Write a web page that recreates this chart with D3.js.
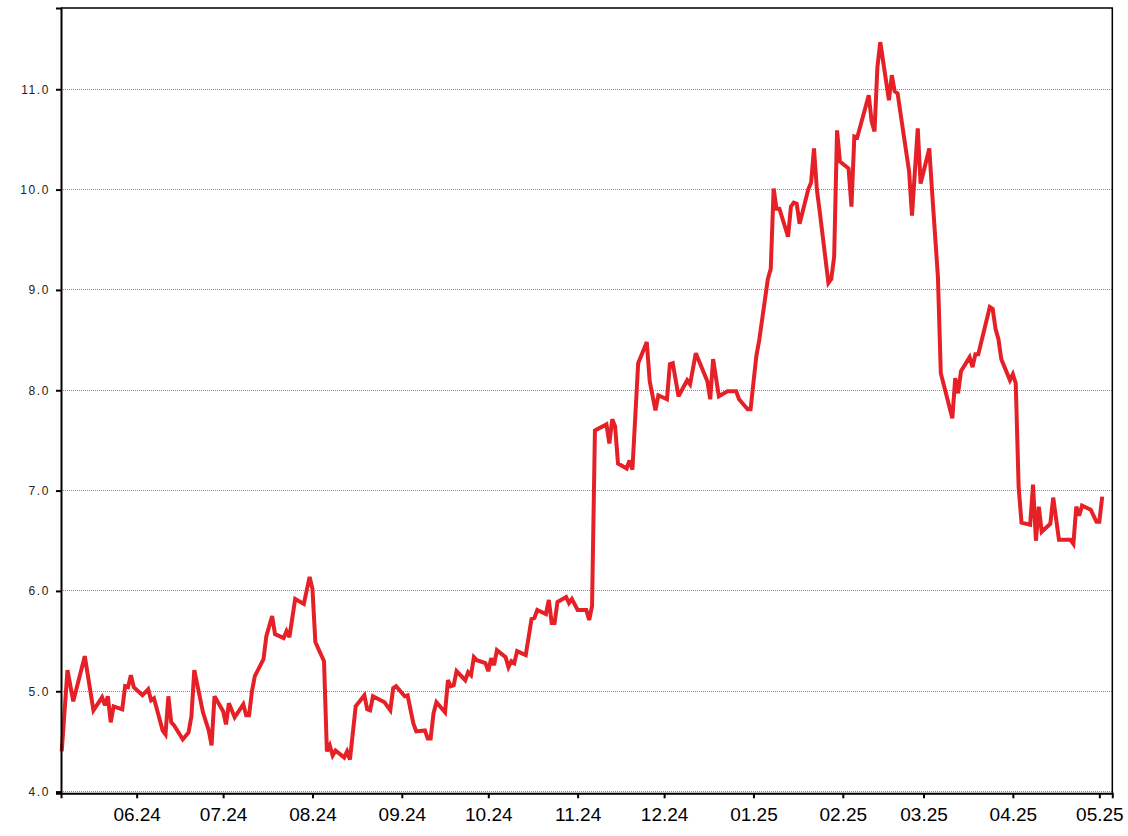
<!DOCTYPE html>
<html>
<head>
<meta charset="utf-8">
<script src="https://cdn.jsdelivr.net/npm/d3@7"></script>
<style>
  html, body { margin: 0; padding: 0; background: #fff; }
  svg { display: block; }
</style>
</head>
<body>
<svg id="chart" width="1128" height="836"></svg>
<script>
const dates = [
  "2024-05-06","2024-05-08","2024-05-10","2024-05-14","2024-05-17","2024-05-20","2024-05-21","2024-05-22","2024-05-23","2024-05-24",
  "2024-05-27","2024-05-28","2024-05-29","2024-05-30","2024-05-31","2024-06-03","2024-06-05","2024-06-06","2024-06-07","2024-06-10",
  "2024-06-11","2024-06-12","2024-06-13","2024-06-14","2024-06-17","2024-06-19","2024-06-20","2024-06-21","2024-06-24","2024-06-26",
  "2024-06-27","2024-06-28","2024-07-01","2024-07-02","2024-07-03","2024-07-05","2024-07-08","2024-07-09","2024-07-10","2024-07-11",
  "2024-07-12","2024-07-15","2024-07-16","2024-07-18","2024-07-19","2024-07-22","2024-07-23","2024-07-24","2024-07-26","2024-07-29",
  "2024-07-31","2024-08-01","2024-08-02","2024-08-05","2024-08-06","2024-08-07","2024-08-08","2024-08-09","2024-08-12","2024-08-13",
  "2024-08-14","2024-08-16","2024-08-19","2024-08-20","2024-08-21","2024-08-22","2024-08-26","2024-08-28","2024-08-29","2024-08-30",
  "2024-09-02","2024-09-03","2024-09-05","2024-09-06","2024-09-09","2024-09-10","2024-09-11","2024-09-12","2024-09-13","2024-09-16",
  "2024-09-17","2024-09-18","2024-09-19","2024-09-20","2024-09-23","2024-09-24","2024-09-25","2024-09-26","2024-09-27","2024-09-30",
  "2024-10-01","2024-10-02","2024-10-03","2024-10-04","2024-10-07","2024-10-08","2024-10-09","2024-10-10","2024-10-11","2024-10-14",
  "2024-10-16","2024-10-17","2024-10-18","2024-10-21","2024-10-22","2024-10-23","2024-10-24","2024-10-25","2024-10-28","2024-10-29",
  "2024-10-30","2024-11-01","2024-11-04","2024-11-05","2024-11-06","2024-11-07","2024-11-11","2024-11-12","2024-11-13","2024-11-14",
  "2024-11-15","2024-11-18","2024-11-19","2024-11-20","2024-11-22","2024-11-25","2024-11-26","2024-11-28","2024-11-29","2024-12-02",
  "2024-12-03","2024-12-04","2024-12-06","2024-12-09","2024-12-10","2024-12-12","2024-12-16","2024-12-17","2024-12-18","2024-12-20",
  "2024-12-23","2024-12-26","2024-12-27","2024-12-30","2024-12-31","2025-01-02","2025-01-03","2025-01-06","2025-01-07","2025-01-08",
  "2025-01-09","2025-01-10","2025-01-13","2025-01-14","2025-01-15","2025-01-16","2025-01-17","2025-01-20","2025-01-21","2025-01-22",
  "2025-01-23","2025-01-24","2025-01-27","2025-01-28","2025-01-29","2025-01-30","2025-01-31","2025-02-03","2025-02-04","2025-02-05",
  "2025-02-06","2025-02-10","2025-02-11","2025-02-12","2025-02-13","2025-02-14","2025-02-17","2025-02-18","2025-02-19","2025-02-20",
  "2025-02-24","2025-02-25","2025-02-27","2025-02-28","2025-03-03","2025-03-04","2025-03-06","2025-03-07","2025-03-11","2025-03-12",
  "2025-03-13","2025-03-14","2025-03-17","2025-03-18","2025-03-19","2025-03-20","2025-03-24","2025-03-25","2025-03-26","2025-03-27",
  "2025-03-28","2025-03-31","2025-04-01","2025-04-02","2025-04-03","2025-04-04","2025-04-07","2025-04-08","2025-04-09","2025-04-10",
  "2025-04-11","2025-04-14","2025-04-15","2025-04-17","2025-04-21","2025-04-22","2025-04-23","2025-04-24","2025-04-25","2025-04-28",
  "2025-04-30","2025-05-01","2025-05-02"
];
const values = [
  4.40,5.21,4.90,5.35,4.81,4.94,4.86,4.95,4.69,4.85,
  4.82,5.05,5.04,5.16,5.04,4.96,5.02,4.91,4.93,4.61,
  4.57,4.95,4.69,4.66,4.52,4.59,4.75,5.21,4.79,4.61,
  4.46,4.95,4.80,4.67,4.88,4.74,4.87,4.76,4.76,5.00,
  5.15,5.32,5.55,5.75,5.57,5.53,5.60,5.54,5.92,5.87,
  6.14,6.02,5.49,5.30,4.40,4.46,4.36,4.41,4.34,4.40,
  4.32,4.85,4.96,4.82,4.81,4.95,4.89,4.81,5.03,5.05,
  4.95,4.96,4.68,4.60,4.61,4.53,4.53,4.78,4.89,4.79,
  5.11,5.05,5.06,5.20,5.11,5.19,5.16,5.34,5.31,5.28,
  5.20,5.33,5.26,5.41,5.34,5.24,5.30,5.28,5.40,5.36,
  5.72,5.73,5.81,5.77,5.91,5.68,5.68,5.89,5.94,5.88,
  5.92,5.81,5.81,5.71,5.85,7.60,7.66,7.47,7.71,7.64,
  7.27,7.22,7.30,7.21,8.27,8.48,8.09,7.80,7.95,7.91,
  8.26,8.27,7.94,8.10,8.06,8.37,8.09,7.91,8.31,7.94,
  7.99,7.99,7.91,7.81,7.81,8.34,8.50,9.11,9.21,10.01,
  9.81,9.81,9.53,9.83,9.87,9.86,9.66,10.00,10.07,10.41,
  10.00,9.78,9.07,9.11,9.33,10.59,10.28,10.21,9.83,10.53,
  10.52,10.94,10.68,10.58,11.22,11.47,10.89,11.14,10.98,10.96,
  10.18,9.74,10.61,10.06,10.41,9.97,9.13,8.17,7.72,8.12,
  7.97,8.19,8.33,8.23,8.36,8.36,8.83,8.81,8.61,8.51,
  8.31,8.10,8.16,8.07,7.04,6.68,6.66,7.06,6.50,6.84,
  6.59,6.67,6.93,6.51,6.51,6.47,6.84,6.75,6.85,6.81,
  6.69,6.69,6.94
];
const yTicks = [4.0, 5.0, 6.0, 7.0, 8.0, 9.0, 10.0, 11.0];
const xTickDates = ["2024-06-01","2024-07-01","2024-08-01","2024-09-01","2024-10-01","2024-11-01",
                    "2024-12-01","2025-01-01","2025-02-01","2025-03-01","2025-04-01","2025-05-01"];
const xTickLabels = ["06.24","07.24","08.24","09.24","10.24","11.24","12.24","01.25","02.25","03.25","04.25","05.25"];
const xDomain = ["2024-05-05T18:00:00Z", "2025-05-05T12:00:00Z"];
const yDomain = [3.983, 11.81];

const parse = d3.utcParse("%Y-%m-%d");
const data = dates.map((d, i) => ({ date: parse(d), value: values[i] }));

const L = 61, R = 1112.3, T = 8, B = 793.3;
const svg = d3.select("#chart");

const x = d3.scaleUtc().domain(xDomain.map(s => new Date(s))).range([L, R]);
const y = d3.scaleLinear().domain(yDomain).range([B, T]);

// gridlines
svg.append("g").selectAll("line").data(yTicks).join("line")
  .attr("x1", L).attr("x2", R)
  .attr("y1", d => y(d)).attr("y2", d => y(d))
  .attr("stroke", "#8c8c8c").attr("stroke-width", 1)
  .attr("stroke-dasharray", "1,1")
  .attr("shape-rendering", "crispEdges");

// line
svg.append("path").datum(data)
  .attr("fill", "none")
  .attr("stroke", "#e52027")
  .attr("stroke-width", 4)
  .attr("stroke-linejoin", "miter")
  .attr("stroke-miterlimit", 3)
  .attr("d", d3.line().x(d => x(d.date)).y(d => y(d.value)));

// frame (top, right)
svg.append("path")
  .attr("d", `M${L},${T}H${R}V${B}`)
  .attr("fill", "none").attr("stroke", "#000").attr("stroke-width", 1.5);

// y axis
const yAxis = d3.axisLeft(y).tickValues(yTicks).tickFormat(d3.format(".1f")).tickSize(5).tickPadding(6);
const gy = svg.append("g").attr("transform", `translate(${L},0)`).call(yAxis);
gy.select(".domain").attr("stroke", "#000").attr("stroke-width", 2);
gy.selectAll(".tick line").attr("stroke", "#000").attr("stroke-width", 2);
gy.selectAll(".tick text")
  .attr("fill", "#222")
  .style("font-family", "'Liberation Sans', Arial, sans-serif")
  .style("font-size", "12px")
  .style("letter-spacing", "1.6px");

// x axis
const labelMap = new Map(xTickDates.map((d, i) => [+parse(d), xTickLabels[i]]));
const xAxis = d3.axisBottom(x).tickValues(xTickDates.map(parse))
  .tickFormat(d => labelMap.get(+d)).tickSize(5).tickPadding(9);
const gx = svg.append("g").attr("transform", `translate(0,${B})`).call(xAxis);
gx.select(".domain").attr("stroke", "#000").attr("stroke-width", 2);
gx.selectAll(".tick line").attr("stroke", "#000").attr("stroke-width", 2);
gx.selectAll(".tick text")
  .attr("fill", "#000")
  .style("font-family", "'Liberation Sans', Arial, sans-serif")
  .style("font-size", "19px");
</script>
</body>
</html>
